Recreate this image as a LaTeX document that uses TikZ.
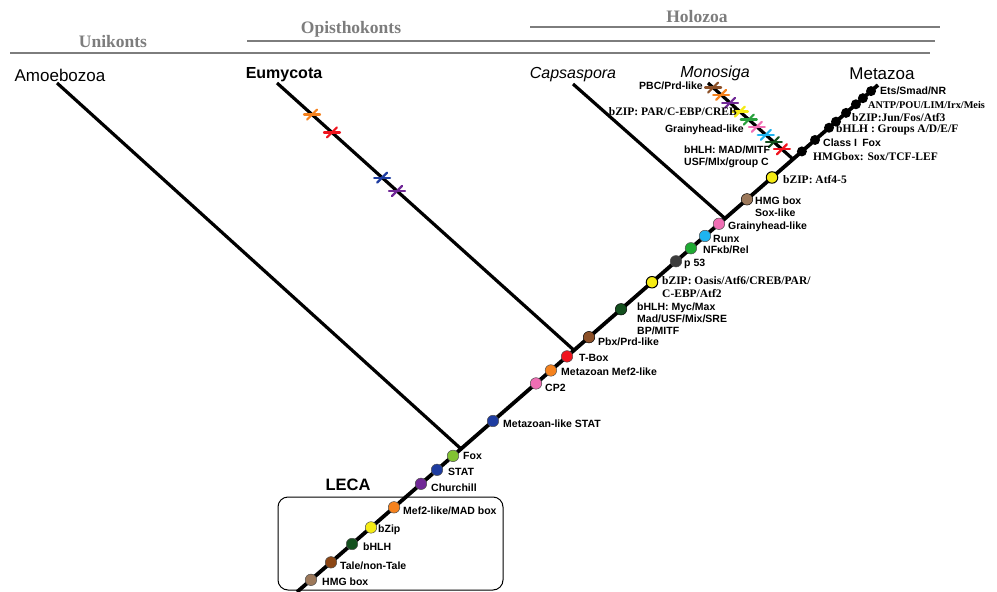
\documentclass[tikz,border=0pt]{standalone}
\usepackage{fontspec}
\setmainfont{Liberation Sans}
\newfontfamily\tserif{Liberation Serif}
\usetikzlibrary{calc}
\definecolor{ctan}{RGB}{156,120,90}
\definecolor{cbrownA}{RGB}{140,70,20}
\definecolor{cdkgreen}{RGB}{20,80,30}
\definecolor{cyellow}{RGB}{245,235,20}
\definecolor{corange}{RGB}{245,130,30}
\definecolor{cpurple}{RGB}{112,40,150}
\definecolor{cblue}{RGB}{30,60,160}
\definecolor{clgreen}{RGB}{130,195,50}
\definecolor{cpink}{RGB}{240,110,180}
\definecolor{cred}{RGB}{240,20,30}
\definecolor{cbrownB}{RGB}{140,80,40}
\definecolor{cmgreen}{RGB}{30,170,50}
\definecolor{ccyan}{RGB}{30,180,240}
\definecolor{cdgray}{RGB}{60,60,60}
\definecolor{cgreenX}{RGB}{40,160,60}
\definecolor{headgray}{RGB}{125,125,125}
\tikzset{
 trunk/.style={line width=3.8pt, black},
 branch/.style={line width=3.2pt, black},
 dotn/.style={circle, draw=black!70, line width=0.5pt, minimum size=11.5pt, inner sep=0pt},
 bdot/.style={circle, fill=black, minimum size=10pt, inner sep=0pt},
 lab/.style={font=\fontsize{10.5}{12}\selectfont\bfseries, anchor=west, inner sep=0pt, align=left},
 slab/.style={font=\tserif\fontsize{11.5}{13}\selectfont\bfseries, anchor=west, inner sep=0pt, align=left},
 taxon/.style={font=\fontsize{17}{19}\selectfont, inner sep=0pt},
 clade/.style={font=\tserif\fontsize{17.5}{20}\selectfont\bfseries, text=headgray, inner sep=0pt},
 cladeline/.style={line width=2.8pt, headgray},
 xmark/.pic={\draw[line width=2.2pt, line cap=round] (-8,0)--(8,0);
             \draw[line width=2.2pt, line cap=round] (-5,5)--(5,-5);}
}
\begin{document}
\begin{tikzpicture}[x=1pt,y=-1pt]
\useasboundingbox (0,0) rectangle (997,592);
% clade headers
\node[clade] (uni) at (113,42) {Unikonts};
\node[clade] (opi) at (351,29) {Opisthokonts};
\node[clade] (hol) at (697,17) {Holozoa};
\coordinate (uniL) at (10,53); \coordinate (uniR) at (930,53);
\coordinate (opiL) at (247,41); \coordinate (opiR) at (935,41);
\coordinate (holL) at (530,27); \coordinate (holR) at (940,27);
\draw[cladeline] (uniL) -- (uniR);
\draw[cladeline] (opiL) -- (opiR);
\draw[cladeline] (holL) -- (holR);
% taxa
\node[taxon] (amo) at (60,75) {Amoebozoa};
\node[taxon,font=\fontsize{16}{18}\selectfont\bfseries] (eum) at (284,75) {Eumycota};
\node[taxon,font=\fontsize{16}{18}\selectfont\itshape] (cap) at (573,75) {Capsaspora};
\node[taxon,font=\fontsize{16}{18}\selectfont\itshape] (mon) at (715,73) {Monosiga};
\node[taxon] (met) at (882,74) {Metazoa};
% LECA box
\node[font=\fontsize{16.5}{18}\selectfont\bfseries, inner sep=0pt] (leca) at (348,485) {LECA};
\draw[line width=1pt, rounded corners=10pt] (278,497) rectangle (503,590);
% trunk
\coordinate (root) at (297,592);
\coordinate (top) at (878,85);
\draw[trunk] (root) -- (top);
% branches
\coordinate (amoT) at (57,83);
\coordinate (eumT) at (277,83);
\coordinate (capT) at (573,84);
\coordinate (monT) at (708,83);
\coordinate (jAmo) at ($(root)!0.2823!(top)$);
\coordinate (jEum) at ($(root)!0.4768!(top)$);
\coordinate (jCap) at ($(root)!0.7367!(top)$);
\coordinate (jMon) at ($(root)!0.8537!(top)$);
\draw[branch] (amoT) -- (jAmo);
\draw[branch] (eumT) -- (jEum);
\draw[branch] (capT) -- (jCap);
\draw[branch] (monT) -- (jMon);
% crosses on Eumycota
\pic[color=corange] at ($(eumT)!0.118!(jEum)$) {xmark};
\pic[color=cred] at ($(eumT)!0.185!(jEum)$) {xmark};
\pic[color=cblue] at ($(eumT)!0.354!(jEum)$) {xmark};
\pic[color=cpurple] at ($(eumT)!0.404!(jEum)$) {xmark};
% crosses on Monosiga
\pic[color=cbrownB] at ($(monT)!0.06!(jMon)$) {xmark};
\pic[color=corange] at ($(monT)!0.155!(jMon)$) {xmark};
\pic[color=cpurple] at ($(monT)!0.26!(jMon)$) {xmark};
\pic[color=cyellow] at ($(monT)!0.375!(jMon)$) {xmark};
\pic[color=cgreenX] at ($(monT)!0.48!(jMon)$) {xmark};
\pic[color=cpink] at ($(monT)!0.575!(jMon)$) {xmark};
\pic[color=ccyan] at ($(monT)!0.68!(jMon)$) {xmark};
\pic[color=cdkgreen] at ($(monT)!0.775!(jMon)$) {xmark};
\pic[color=cred] at ($(monT)!0.87!(jMon)$) {xmark};
% dots on trunk
\node[dotn, fill=ctan] (d1) at ($(root)!0.024!(top)$) {};
\node[dotn, fill=cbrownA] (d2) at ($(root)!0.0585!(top)$) {};
\node[dotn, fill=cdkgreen] (d3) at ($(root)!0.0947!(top)$) {};
\node[dotn, fill=cyellow] (d4) at ($(root)!0.1274!(top)$) {};
\node[dotn, fill=corange] (d5) at ($(root)!0.167!(top)$) {};
\node[dotn, fill=cpurple] (d6) at ($(root)!0.2134!(top)$) {};
\node[dotn, fill=cblue] (d7) at ($(root)!0.241!(top)$) {};
\node[dotn, fill=clgreen] (d8) at ($(root)!0.2685!(top)$) {};
\node[dotn, fill=cblue] (d9) at ($(root)!0.3373!(top)$) {};
\node[dotn, fill=cpink] (d10) at ($(root)!0.4114!(top)$) {};
\node[dotn, fill=corange] (d11) at ($(root)!0.437!(top)$) {};
\node[dotn, fill=cred] (d12) at ($(root)!0.4647!(top)$) {};
\node[dotn, fill=cbrownB, draw=black] (d13) at ($(root)!0.5026!(top)$) {};
\node[dotn, fill=cdkgreen, draw=black] (d14) at ($(root)!0.5577!(top)$) {};
\node[dotn, fill=cyellow, draw=black, line width=1pt] (d15) at ($(root)!0.611!(top)$) {};
\node[dotn, fill=cdgray] (d16) at ($(root)!0.6523!(top)$) {};
\node[dotn, fill=cmgreen] (d17) at ($(root)!0.678!(top)$) {};
\node[dotn, fill=ccyan] (d18) at ($(root)!0.7022!(top)$) {};
\node[dotn, fill=cpink] (d19) at ($(root)!0.7263!(top)$) {};
\node[dotn, fill=ctan, draw=black] (d20) at ($(root)!0.7745!(top)$) {};
\node[dotn, fill=cyellow, draw=black, line width=1pt] (d21) at ($(root)!0.8176!(top)$) {};
\node[bdot] (m1) at ($(root)!0.869!(top)$) {};
\node[bdot] (m2) at ($(root)!0.8916!(top)$) {};
\node[bdot] (m3) at ($(root)!0.9157!(top)$) {};
\node[bdot] (m4) at ($(root)!0.9277!(top)$) {};
\node[bdot] (m5) at ($(root)!0.945!(top)$) {};
\node[bdot] (m6) at ($(root)!0.962!(top)$) {};
\node[bdot] (m7) at ($(root)!0.974!(top)$) {};
\node[bdot] (m8) at ($(root)!0.988!(top)$) {};
% labels (sans)
\node[lab] (l1) at (322,582) {HMG box};
\node[lab] (l2) at (340,566) {Tale/non-Tale};
\node[lab] (l3) at (363,547) {bHLH};
\node[lab] (l4) at (378,530) {bZip};
\node[lab] (l5) at (403,511) {Mef2-like/MAD box};
\node[lab] (l6) at (431,488) {Churchill};
\node[lab] (l7) at (448,472) {STAT};
\node[lab] (l8) at (463,456) {Fox};
\node[lab] (l9) at (503,424) {Metazoan-like STAT};
\node[lab] (l10) at (545,388) {CP2};
\node[lab] (l11) at (561,372) {Metazoan Mef2-like};
\node[lab] (l12) at (579,358) {T-Box};
\node[lab] (l13) at (598,342) {Pbx/Prd-like};
\node[lab] (l14) at (637,319) {bHLH: Myc/Max\\Mad/USF/Mix/SRE\\BP/MITF};
\node[slab] (l15) at (662,287) {bZIP: Oasis/Atf6/CREB/PAR/\\C-EBP/Atf2};
\node[lab] (l16) at (684,264) {p 53};
\node[lab] (l17) at (703,250) {NFκb/Rel};
\node[lab] (l18) at (713,239) {Runx};
\node[lab] (l19) at (728,227) {Grainyhead-like};
\node[lab] (l20) at (755,207) {HMG box\\Sox-like};
\node[slab] (l21) at (783,180) {bZIP: Atf4-5};
\node[slab] (l22) at (813,157) {HMGbox: Sox/TCF-LEF};
\node[lab] (l23) at (823,143) {Class I\enspace Fox};
\node[slab] (l24) at (836,130) {bHLH : Groups A/D/E/F};
\node[slab] (l25) at (852,118) {bZIP:Jun/Fos/Atf3};
\node[slab, font=\tserif\fontsize{10.3}{12}\selectfont\bfseries] (l26) at (868,105) {ANTP/POU/LIM/Irx/Meis};
\node[lab] (l27) at (880,91) {Ets/Smad/NR};
% Monosiga labels
\node[lab, anchor=east] (n1) at (703,86) {PBC/Prd-like};
\node[slab, anchor=east] (n2) at (737,112) {bZIP: PAR/C-EBP/CREB};
\node[lab, anchor=east] (n3) at (744,130) {Grainyhead-like};
\node[lab] (n4) at (684,157) {bHLH: MAD/MITF\\USF/Mlx/group C};
\end{tikzpicture}
\end{document}
